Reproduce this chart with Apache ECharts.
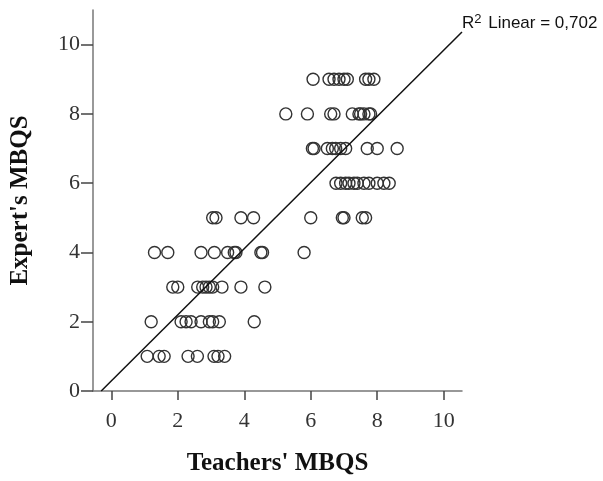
<!DOCTYPE html>
<html><head><meta charset="utf-8">
<script src="https://cdn.jsdelivr.net/npm/echarts@6/dist/echarts.min.js"></script>
<style>html,body{margin:0;padding:0;background:#fff}#c{width:603px;height:481px}</style>
</head><body><div id="c"></div>
<script>
// Expert's MBQS (y) rows and Teachers' MBQS (x) values
const row1 = [1.08, 1.44, 1.59, 2.31, 2.59, 3.09, 3.21, 3.41];
const row2 = [1.2, 2.1, 2.25, 2.4, 2.7, 2.95, 3.05, 3.25, 4.3];
const row3 = [1.85, 2.0, 2.6, 2.75, 2.85, 2.95, 3.05, 3.33, 3.9, 4.62];
const row4 = [1.3, 1.7, 2.7, 3.1, 3.5, 3.7, 3.75, 4.5, 4.55, 5.8];
const row5 = [3.05, 3.15, 3.9, 4.28, 6.0, 6.95, 7.0, 7.55, 7.65];
const row6 = [6.76, 6.9, 7.05, 7.15, 7.3, 7.4, 7.6, 7.75, 8.0, 8.2, 8.36];
const row7 = [6.05, 6.1, 6.5, 6.65, 6.75, 6.9, 7.05, 7.7, 8.0, 8.6];
const row8 = [5.25, 5.9, 6.6, 6.7, 7.25, 7.45, 7.5, 7.6, 7.75, 7.8];
const row9 = [6.07, 6.55, 6.7, 6.85, 7.0, 7.1, 7.65, 7.75, 7.9];
const rows = [row1, row2, row3, row4, row5, row6, row7, row8, row9];
const rowValues = [1, 2, 3, 4, 5, 6, 7, 8, 9];
const tickValues = [0, 2, 4, 6, 8, 10];
const fitSlope = 0.955;
const fitIntercept = 0.29;
const r2Label = '0,702';

const X_MIN = -0.55, X_MAX = 10.55, Y_MIN = 0, Y_MAX = 11;

const points = [];
rows.forEach((r, i) => r.forEach(x => points.push([x, rowValues[i]])));
const xStart = -fitIntercept / fitSlope;
const fitLine = [[xStart, fitSlope * xStart + fitIntercept], [X_MAX, fitSlope * X_MAX + fitIntercept]];

const chart = echarts.init(document.getElementById('c'));
const axisFont = {fontFamily: 'Liberation Serif', fontSize: 22, color: '#333'};
const nameFont = {fontFamily: 'Liberation Serif', fontWeight: 'bold', fontSize: 25, color: '#111'};
chart.setOption({
  animation: false,
  grid: {left: 92, right: 141, top: 10, bottom: 88},
  xAxis: {
    type: 'value', min: X_MIN, max: X_MAX,
    name: "Teachers' MBQS", nameLocation: 'middle', nameGap: 60,
    nameTextStyle: nameFont,
    axisLine: {show: true, onZero: false, lineStyle: {color: '#777', width: 1.5}},
    axisTick: {show: true, length: 9, customValues: tickValues, lineStyle: {color: '#444', width: 1.5}},
    axisLabel: Object.assign({customValues: tickValues, margin: 19}, axisFont),
    splitLine: {show: false}
  },
  yAxis: {
    type: 'value', min: Y_MIN, max: Y_MAX,
    name: "Expert's MBQS", nameLocation: 'middle', nameGap: 60, nameRotate: 90,
    nameTextStyle: nameFont,
    axisLine: {show: true, onZero: false, lineStyle: {color: '#777', width: 1.5}},
    axisTick: {show: true, length: 12, customValues: tickValues, lineStyle: {color: '#444', width: 1.5}},
    axisLabel: Object.assign({customValues: tickValues, margin: 13}, axisFont),
    splitLine: {show: false}
  },
  series: [
    {
      type: 'scatter', data: points, symbol: 'circle', symbolSize: 12,
      itemStyle: {color: 'rgba(0,0,0,0)', borderColor: '#333', borderWidth: 1.4, opacity: 1}
    },
    {
      type: 'line', data: fitLine, symbol: 'none', clip: true,
      lineStyle: {color: '#111', width: 1.5}
    }
  ],
  graphic: [{
    type: 'text', left: 462, top: 13,
    style: {
      text: 'R{sup|2} Linear = ' + r2Label,
      rich: {sup: {fontSize: 13, verticalAlign: 'top', padding: [0, 2, 7, 0], fontFamily: 'Liberation Sans'}},
      fontFamily: 'Liberation Sans', fontSize: 17, fill: '#111'
    }
  }]
});
</script></body></html>
